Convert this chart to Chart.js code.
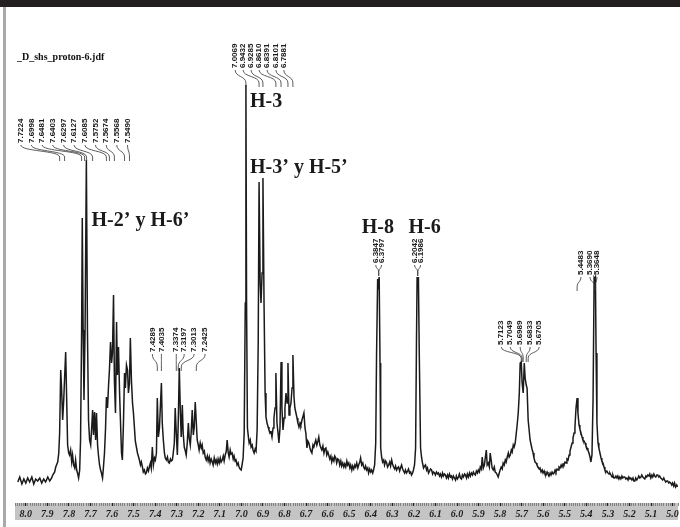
<!DOCTYPE html>
<html><head><meta charset="utf-8">
<script src="https://cdn.jsdelivr.net/npm/chart.js@4.4.1/dist/chart.umd.min.js"></script>
<style>html,body{margin:0;padding:0;background:#fff;overflow:hidden}canvas{display:block}</style>
</head><body>
<canvas id="c" width="680" height="527"></canvas>
<script>
// ---- spectrum: chemical shift (ppm) and intensity (arbitrary units) ----
const ppm = [
8.037,8.028,8.018,8.009,8.000,7.991,7.982,7.972,7.963,7.954,
7.945,7.935,7.926,7.917,7.908,7.898,7.889,7.880,7.875,7.866,
7.861,7.852,7.847,7.843,7.838,7.834,7.829,7.824,7.820,7.815,
7.810,7.806,7.801,7.797,7.792,7.787,7.783,7.778,7.773,7.769,
7.764,7.760,7.755,7.750,7.746,7.741,7.738,7.734,7.730,7.725,
7.719,7.714,7.709,7.704,7.699,7.695,7.690,7.686,7.681,7.676,
7.672,7.667,7.663,7.658,7.653,7.649,7.644,7.640,7.635,7.630,
7.626,7.621,7.616,7.612,7.607,7.602,7.598,7.593,7.589,7.584,
7.579,7.575,7.570,7.565,7.561,7.556,7.552,7.547,7.542,7.538,
7.533,7.528,7.524,7.519,7.515,7.510,7.505,7.501,7.496,7.492,
7.487,7.482,7.478,7.473,7.468,7.464,7.459,7.455,7.450,7.445,
7.441,7.436,7.431,7.427,7.422,7.418,7.413,7.408,7.403,7.399,
7.394,7.390,7.385,7.380,7.376,7.371,7.367,7.362,7.357,7.353,
7.348,7.343,7.339,7.334,7.329,7.325,7.320,7.316,7.311,7.307,
7.302,7.297,7.293,7.288,7.283,7.279,7.274,7.270,7.265,7.260,
7.256,7.251,7.246,7.242,7.237,7.233,7.228,7.223,7.219,7.214,
7.209,7.205,7.200,7.196,7.191,7.186,7.182,7.177,7.172,7.168,
7.163,7.158,7.154,7.149,7.145,7.140,7.135,7.131,7.126,7.121,
7.117,7.112,7.108,7.103,7.098,7.094,7.089,7.084,7.080,7.075,
7.070,7.066,7.061,7.057,7.052,7.048,7.043,7.038,7.034,7.029,
7.025,7.020,7.015,7.011,7.006,7.001,6.997,6.992,6.987,6.982,
6.979,6.976,6.972,6.967,6.964,6.959,6.955,6.950,6.946,6.941,
6.936,6.932,6.927,6.922,6.918,6.913,6.909,6.904,6.900,6.895,
6.890,6.886,6.881,6.876,6.872,6.867,6.863,6.858,6.853,6.849,
6.844,6.840,6.835,6.830,6.826,6.821,6.816,6.812,6.807,6.802,
6.798,6.793,6.788,6.784,6.779,6.775,6.770,6.765,6.761,6.756,
6.752,6.747,6.742,6.738,6.733,6.728,6.724,6.719,6.715,6.710,
6.705,6.701,6.696,6.692,6.687,6.682,6.678,6.673,6.668,6.664,
6.659,6.655,6.650,6.645,6.641,6.636,6.631,6.627,6.622,6.617,
6.613,6.608,6.604,6.599,6.595,6.590,6.585,6.581,6.576,6.571,
6.567,6.562,6.558,6.553,6.548,6.544,6.539,6.535,6.530,6.525,
6.521,6.516,6.511,6.507,6.502,6.497,6.493,6.488,6.484,6.479,
6.474,6.470,6.465,6.460,6.456,6.451,6.447,6.442,6.437,6.433,
6.428,6.424,6.419,6.414,6.410,6.405,6.400,6.396,6.391,6.387,
6.382,6.377,6.373,6.368,6.365,6.361,6.357,6.354,6.349,6.345,
6.340,6.336,6.331,6.326,6.322,6.317,6.312,6.308,6.303,6.299,
6.294,6.289,6.285,6.280,6.276,6.271,6.266,6.262,6.257,6.252,
6.248,6.243,6.239,6.234,6.229,6.225,6.220,6.215,6.211,6.206,
6.202,6.197,6.192,6.188,6.185,6.182,6.179,6.175,6.169,6.164,
6.160,6.155,6.150,6.146,6.141,6.137,6.132,6.127,6.123,6.118,
6.113,6.109,6.104,6.100,6.095,6.090,6.086,6.081,6.077,6.072,
6.067,6.063,6.058,6.054,6.049,6.044,6.040,6.035,6.030,6.026,
6.021,6.017,6.012,6.007,6.003,5.998,5.993,5.989,5.984,5.979,
5.975,5.970,5.965,5.961,5.956,5.952,5.947,5.942,5.938,5.933,
5.928,5.924,5.919,5.915,5.910,5.905,5.901,5.896,5.892,5.887,
5.883,5.878,5.873,5.869,5.864,5.860,5.855,5.850,5.846,5.841,
5.837,5.832,5.827,5.823,5.818,5.813,5.809,5.804,5.800,5.795,
5.790,5.786,5.781,5.776,5.772,5.767,5.762,5.758,5.753,5.748,
5.744,5.739,5.735,5.730,5.725,5.721,5.716,5.711,5.707,5.702,
5.698,5.693,5.688,5.684,5.679,5.675,5.670,5.665,5.661,5.656,
5.652,5.647,5.643,5.638,5.633,5.629,5.624,5.619,5.615,5.610,
5.605,5.601,5.596,5.592,5.587,5.582,5.578,5.573,5.568,5.564,
5.559,5.554,5.550,5.545,5.541,5.536,5.531,5.527,5.522,5.517,
5.513,5.508,5.504,5.499,5.494,5.490,5.485,5.480,5.476,5.471,
5.466,5.462,5.457,5.453,5.448,5.443,5.439,5.434,5.430,5.425,
5.420,5.416,5.411,5.406,5.402,5.397,5.393,5.388,5.383,5.379,
5.374,5.369,5.364,5.362,5.358,5.355,5.351,5.346,5.342,5.337,
5.332,5.328,5.323,5.318,5.314,5.309,5.305,5.300,5.295,5.291,
5.286,5.281,5.277,5.272,5.268,5.263,5.258,5.254,5.249,5.245,
5.240,5.235,5.231,5.226,5.222,5.217,5.212,5.207,5.203,5.198,
5.194,5.189,5.184,5.180,5.175,5.171,5.166,5.161,5.157,5.152,
5.147,5.143,5.138,5.134,5.129,5.124,5.120,5.115,5.110,5.106,
5.101,5.096,5.092,5.087,5.083,5.078,5.073,5.069,5.064,5.060,
5.055,5.050,5.046,5.041,5.037,5.032,5.027,5.023,5.018,5.014,
5.009,5.004,5.000,4.995,4.991,4.986,4.981,4.977
];
const intensity = [
21,26,19,24,20,25,21,26,19,24,
22,25,20,24,21,26,22,25,28,31,
36,41,50,70,133,115,83,103,125,151,
100,58,50,48,53,41,48,38,35,43,
33,30,25,33,63,173,285,173,103,173,
343,173,83,63,58,73,93,68,91,63,
90,58,48,38,33,30,25,35,50,75,
106,95,118,133,161,140,150,208,123,90,
181,128,156,110,83,50,43,80,130,115,
138,133,110,120,165,123,100,91,75,62,
56,50,47,43,38,41,36,31,33,29,
30,35,32,36,40,35,56,38,45,43,
50,105,66,75,95,120,80,63,50,45,
43,46,41,40,44,42,43,50,60,95,
70,48,80,135,90,66,98,70,56,52,
48,60,80,65,58,70,93,68,75,101,
80,63,58,53,60,55,58,50,52,46,
43,47,42,46,40,44,41,38,45,40,
43,39,44,40,45,41,43,47,42,48,
52,63,50,46,53,49,50,44,47,42,
43,38,40,36,34,33,38,45,70,200,
418,200,75,65,60,63,56,58,53,50,
54,52,73,160,321,220,200,230,325,200,
110,86,80,76,73,70,72,66,75,85,
95,130,80,70,60,75,141,95,73,85,
95,110,100,140,88,95,100,115,148,106,
95,90,85,80,76,80,78,83,86,90,
75,70,55,62,60,55,52,50,58,56,
60,63,58,62,66,58,55,53,57,50,
54,55,48,51,48,44,47,41,45,42,
47,45,40,44,43,38,42,37,40,36,
39,36,42,38,40,35,38,33,37,34,
38,36,40,35,38,41,45,38,40,36,
34,37,33,35,30,34,31,33,30,33,
38,60,150,224,219,226,140,55,45,41,
43,38,42,40,36,38,41,37,43,39,
36,34,37,33,35,36,32,35,38,34,
32,30,33,30,32,34,30,31,28,30,
33,38,55,160,226,221,226,150,55,45,
40,35,37,38,33,35,30,32,34,33,
29,31,30,28,31,29,30,27,29,26,
30,27,29,28,25,28,25,29,26,27,
24,27,25,23,27,24,26,29,25,24,
28,26,29,28,25,29,26,30,27,30,
28,31,29,28,32,30,33,31,36,34,
46,35,38,45,53,38,40,36,50,42,
35,33,36,31,30,28,26,30,33,36,
34,40,38,43,41,46,50,46,48,53,
51,58,56,60,70,78,90,110,140,141,
120,110,140,125,118,115,83,72,63,58,
54,50,45,41,40,38,36,34,35,31,
33,30,32,29,28,31,29,27,30,28,
31,29,30,33,31,34,33,36,35,38,
36,39,38,41,40,44,43,48,52,56,
60,65,70,76,95,105,90,78,74,70,
66,63,62,60,57,55,53,50,46,41,
48,103,225,224,226,150,80,60,55,50,
45,42,40,36,33,31,32,30,29,30,
28,26,28,25,25,27,25,27,24,26,
24,27,25,26,26,24,25,23,26,24,
25,23,25,22,22,25,23,25,27,25,
26,28,26,25,24,27,26,28,27,29,
25,28,26,29,27,26,28,28,26,27,
25,24,23,25,23,21,22,22,20,21,
20,18,20,17,20,16,18,16
];

// ---- axis range and ruler ----
const axisMaxPpm = 8.05;
const axisMinPpm = 4.975;
const minorStep = 0.01;

// ---- file name and assignment labels ----
const fileName = '_D_shs_proton-6.jdf';
const assignText = ['H-2\u2019 y H-6\u2019', 'H-3', 'H-3\u2019 y H-5\u2019', 'H-8', 'H-6'];
const assignPpm = [7.695, 6.960, 6.960, 6.442, 6.225];
const assignLevel = [277, 396, 330, 270, 270];

// ---- peak-pick label groups ----
const pickA = ['7.7224','7.6998','7.6481','7.6403','7.6297','7.6127','7.6085','7.5752','7.5674','7.5568','7.5490'];
const pickAText = [8.023,7.974,7.924,7.875,7.825,7.776,7.726,7.677,7.627,7.578,7.528];
const pickATip = [7.843,7.820,7.741,7.727,7.718,7.690,7.626,7.612,7.589,7.542,7.519];
const pickB = ['7.0069','6.9432','6.9285','6.8610','6.8391','6.8101','6.7881'];
const pickBText = [7.029,6.992,6.955,6.918,6.881,6.840,6.803];
const pickBTip = [6.979,6.918,6.900,6.840,6.816,6.784,6.761];
const pickC = ['7.4289','7.4035','7.3374','7.3197','7.3013','7.2425'];
const pickCText = [7.413,7.371,7.302,7.265,7.219,7.168];
const pickCTip = [7.390,7.371,7.302,7.293,7.279,7.209];
const pickD = ['6.3847','6.3797'];
const pickDText = [6.377,6.350];
const pickDTip = [6.363,6.363];
const pickE = ['6.2042','6.1986'];
const pickEText = [6.197,6.169];
const pickETip = [6.182,6.182];
const pickF = ['5.7123','5.7049','5.6989','5.6833','5.6705'];
const pickFText = [5.795,5.753,5.707,5.661,5.619];
const pickFTip = [5.702,5.698,5.693,5.679,5.670];
const pickG = ['5.4483','5.3690','5.3648'];
const pickGText = [5.425,5.383,5.351];
const pickGTip = [5.443,5.360,5.360];

const groups = [
  {labels: pickA, text: pickAText, tip: pickATip, textLevel: 360, tipLevel: 346},
  {labels: pickB, text: pickBText, tip: pickBTip, textLevel: 435, tipLevel: 420},
  {labels: pickC, text: pickCText, tip: pickCTip, textLevel: 151, tipLevel: 136},
  {labels: pickD, text: pickDText, tip: pickDTip, textLevel: 240, tipLevel: 231},
  {labels: pickE, text: pickEText, tip: pickETip, textLevel: 240, tipLevel: 231},
  {labels: pickF, text: pickFText, tip: pickFTip, textLevel: 158, tipLevel: 145},
  {labels: pickG, text: pickGText, tip: pickGTip, textLevel: 228, tipLevel: 216}
];

const points = [];
for (let i = 0; i < Math.min(ppm.length, intensity.length); i++) points.push({x: ppm[i], y: intensity[i]});

const decor = {
  id: 'decor',
  beforeDraw(chart) {
    const {ctx, chartArea: a} = chart;
    ctx.save();
    ctx.fillStyle = '#ffffff'; ctx.fillRect(0, 0, chart.width, chart.height);
    ctx.fillStyle = '#231f20'; ctx.fillRect(0, 0, chart.width, 7);
    ctx.fillStyle = '#a9a9a9'; ctx.fillRect(3, 7, 3, chart.height - 7);
    ctx.fillStyle = '#c4c4c4'; ctx.fillRect(a.left, a.bottom, a.right - a.left, 17);
    ctx.restore();
  },
  afterDatasetsDraw(chart) {
    const {ctx} = chart;
    const xs = chart.scales.x, ys = chart.scales.y;
    ctx.save();
    // file name
    ctx.fillStyle = '#111';
    ctx.font = 'bold 10px "Liberation Serif", serif';
    ctx.textAlign = 'left'; ctx.textBaseline = 'alphabetic';
    ctx.fillText(fileName, 17, 60);
    // assignments
    ctx.font = 'bold 20px "Liberation Serif", serif';
    ctx.fillStyle = '#1a1a1a';
    assignText.forEach((t, i) => {
      ctx.fillText(t, xs.getPixelForValue(assignPpm[i]), ys.getPixelForValue(assignLevel[i]));
    });
    // peak picks
    ctx.font = 'bold 8px "Liberation Sans", Arial, sans-serif';
    ctx.strokeStyle = '#333'; ctx.lineWidth = 0.8;
    groups.forEach(g => {
      const yb = ys.getPixelForValue(g.textLevel);
      const yt = ys.getPixelForValue(g.tipLevel);
      g.labels.forEach((t, i) => {
        const xl = xs.getPixelForValue(g.text[i]);
        const xt = xs.getPixelForValue(g.tip[i]);
        ctx.save();
        ctx.translate(xl, yb); ctx.rotate(-Math.PI / 2);
        ctx.textAlign = 'left'; ctx.textBaseline = 'middle';
        ctx.fillStyle = '#1a1a1a';
        ctx.fillText(t, 0, 0);
        ctx.restore();
        const h = yt - yb - 2;
        ctx.beginPath();
        ctx.moveTo(xl, yb + 2);
        ctx.bezierCurveTo(xl, yb + 2 + h * 0.55, xt, yt - h * 0.55, xt, yt);
        ctx.lineTo(xt, yt + 4);
        ctx.stroke();
      });
    });
    ctx.restore();
  }
};

new Chart(document.getElementById('c'), {
  type: 'scatter',
  data: {datasets: [{
    data: points, showLine: true, pointRadius: 0, borderColor: '#1a1a1a',
    borderWidth: 1.5, tension: 0
  }]},
  options: {
    responsive: false, animation: false, devicePixelRatio: 1,
    layout: {padding: {left: 15, right: 0, top: 8, bottom: 5}},
    plugins: {legend: {display: false}, tooltip: {enabled: false}},
    scales: {
      x: {
        type: 'linear', reverse: true, min: axisMinPpm, max: axisMaxPpm,
        border: {display: false},
        grid: {
          drawOnChartArea: false, drawTicks: true, tickLength: 3,
          tickColor: c => (Math.round(c.tick.value * 100) % 10 === 0 ? '#222' : '#6e6e6e'),
          tickWidth: c => (Math.round(c.tick.value * 100) % 10 === 0 ? 1.4 : 0.8)
        },
        ticks: {
          stepSize: minorStep, autoSkip: false, maxRotation: 0, minRotation: 0, padding: 2,
          color: '#1c1c1c',
          font: {family: '"Liberation Serif", serif', size: 10, weight: 'bold', style: 'italic'},
          callback: v => { const c = Math.round(v * 100); return c % 10 === 0 ? (c / 100).toFixed(1) : ''; }
        }
      },
      y: {display: false, min: 0, max: 495}
    }
  },
  plugins: [decor]
});
</script>
</body></html>
